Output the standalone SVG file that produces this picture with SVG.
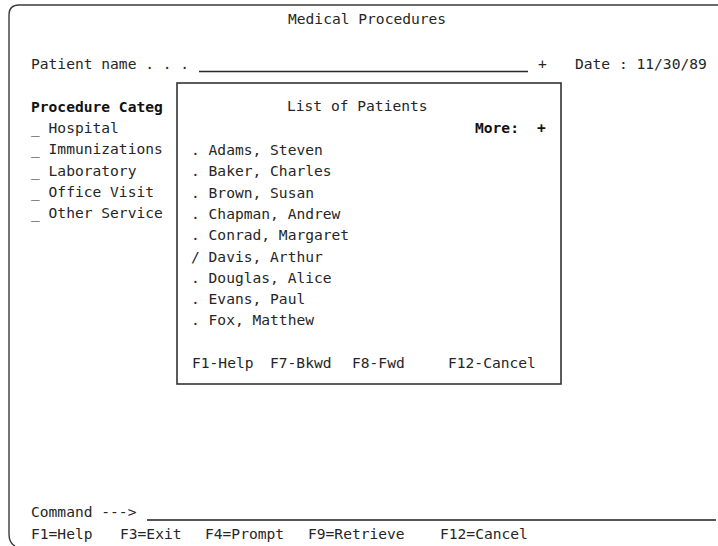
<svg xmlns="http://www.w3.org/2000/svg" width="718" height="546" viewBox="0 0 718 546">
  <style>
    text { font-family: "DejaVu Sans Mono", "Liberation Mono", monospace; font-size: 14.6px; fill: #262626; }
    .b { font-weight: bold; fill: #111; }
    .frame { fill: none; stroke: #3a3a3a; stroke-width: 1.4; }
    .popup { fill: #fff; stroke: #333; stroke-width: 1.6; }
    .field { stroke: #2a2a2a; stroke-width: 1.4; }
    .cmdline { stroke: #555; stroke-width: 2; }
  </style>
  <rect width="718" height="546" fill="#fff"/>

  <!-- panel frame -->
  <g id="frame">
    <path class="frame" d="M718 5 H19 Q9 5 9 15 V534 Q9 543 15 546"/>
  </g>

  <!-- panel title -->
  <g id="title">
    <text x="288" y="24">Medical Procedures</text>
  </g>

  <!-- patient name entry field and date -->
  <g id="patient-field">
    <text x="31" y="69">Patient name . . .</text>
    <line class="field" x1="199" y1="71.5" x2="528" y2="71.5"/>
    <text x="538" y="69">+</text>
    <text x="575" y="69">Date : 11/30/89</text>
  </g>

  <!-- procedure category choices -->
  <g id="categories">
    <text class="b" x="31" y="112">Procedure Categ</text>
    <text x="31" y="133">_ Hospital</text>
    <text x="31" y="154.3">_ Immunizations</text>
    <text x="31" y="175.6">_ Laboratory</text>
    <text x="31" y="196.9">_ Office Visit</text>
    <text x="31" y="218.2">_ Other Service</text>
  </g>

  <!-- pop-up selection list -->
  <g id="patient-list">
    <rect class="popup" x="177" y="83" width="384" height="301"/>
    <text x="287" y="111">List of Patients</text>
    <text class="b" x="475" y="133">More:</text>
    <text class="b" x="537" y="133">+</text>
    <text x="191" y="155">. Adams, Steven</text>
    <text x="191" y="176.3">. Baker, Charles</text>
    <text x="191" y="197.6">. Brown, Susan</text>
    <text x="191" y="218.9">. Chapman, Andrew</text>
    <text x="191" y="240.2">. Conrad, Margaret</text>
    <text x="191" y="261.5">/ Davis, Arthur</text>
    <text x="191" y="282.8">. Douglas, Alice</text>
    <text x="191" y="304.1">. Evans, Paul</text>
    <text x="191" y="325.4">. Fox, Matthew</text>
    <text x="192" y="368">F1-Help</text>
    <text x="270" y="368">F7-Bkwd</text>
    <text x="352" y="368">F8-Fwd</text>
    <text x="448" y="368">F12-Cancel</text>
  </g>

  <!-- command line and function keys -->
  <g id="command-area">
    <text x="31" y="517">Command ---&gt;</text>
    <line class="cmdline" x1="147" y1="520" x2="716" y2="520"/>
    <text x="31" y="539">F1=Help</text>
    <text x="120" y="539">F3=Exit</text>
    <text x="205" y="539">F4=Prompt</text>
    <text x="308" y="539">F9=Retrieve</text>
    <text x="440" y="539">F12=Cancel</text>
  </g>
</svg>
